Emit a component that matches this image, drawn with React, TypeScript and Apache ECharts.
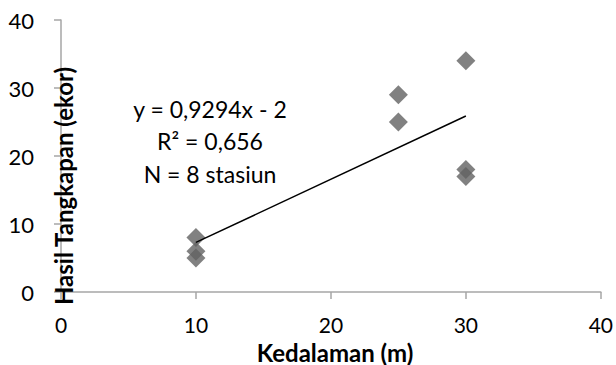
import React, { useEffect, useRef } from "react";
import * as echarts from "echarts";

const depthX = [10, 10, 10, 25, 25, 30, 30, 30];
const catchY = [8, 6, 5, 29, 25, 34, 18, 17];
const trendX = [10, 30];
const trendY = [7.29, 25.88];
const xTicks = [0, 10, 20, 30, 40];
const yTicks = [0, 10, 20, 30, 40];
const annotations = ["y = 0,9294x - 2", "R² = 0,656", "N = 8 stasiun"];
const xTitle = "Kedalaman (m)";
const yTitle = "Hasil Tangkapan (ekor)";

const FONT = "Lato, 'Open Sans', sans-serif";

export default function App() {
  const ref = useRef<HTMLDivElement>(null);
  useEffect(() => {
    if (!ref.current) return;
    const chart = echarts.init(ref.current, null, { renderer: "svg" });
    const axisCommon = {
      type: "value" as const,
      min: 0,
      max: 40,
      interval: 10,
      splitLine: { show: false },
      axisLine: { show: true, lineStyle: { color: "#a6a6a6", width: 1.5 } },
      axisTick: { show: true, inside: false, length: 7, lineStyle: { color: "#a6a6a6", width: 1.5 } },
    };
    chart.setOption({
      animation: false,
      backgroundColor: "#ffffff",
      grid: { left: 61, right: 14, top: 20, bottom: 73, containLabel: false },
      xAxis: {
        ...axisCommon,
        axisLabel: {
          margin: 22,
          fontSize: 21,
          fontFamily: FONT,
          color: "#000",
          formatter: (v: number) => (xTicks.includes(v) ? String(v) : ""),
        },
      },
      yAxis: {
        ...axisCommon,
        axisLabel: {
          margin: 27,
          fontSize: 22,
          fontFamily: FONT,
          color: "#000",
          formatter: (v: number) => (yTicks.includes(v) ? String(v) : ""),
        },
      },
      graphic: [
        {
          type: "text",
          x: 63,
          y: 186,
          rotation: Math.PI / 2,
          z: 10,
          style: {
            text: yTitle,
            fontSize: 24,
            fontWeight: "bold",
            fontFamily: FONT,
            fill: "#000",
            align: "center",
            verticalAlign: "middle",
          },
        },
        {
          type: "text",
          x: 335,
          y: 352,
          style: {
            text: xTitle,
            fontSize: 24,
            fontWeight: "bold",
            fontFamily: FONT,
            fill: "#000",
            align: "center",
            verticalAlign: "middle",
          },
        },
        ...annotations.map((t, i) => ({
          type: "text",
          x: 210,
          y: [109, 141, 174][i],
          style: {
            text: t,
            fontSize: 23,
            fontFamily: FONT,
            fill: "#000",
            align: "center",
            verticalAlign: "middle",
          },
        })),
      ],
      series: [
        {
          type: "line",
          data: trendX.map((x, i) => [x, trendY[i]]),
          symbol: "none",
          lineStyle: { color: "#000", width: 1.5 },
          z: 3,
        },
        {
          type: "scatter",
          data: depthX.map((x, i) => [x, catchY[i]]),
          symbol: "diamond",
          symbolSize: [19, 19],
          itemStyle: { color: "#626262" },
          z: 2,
        },
      ],
    });
    return () => chart.dispose();
  }, []);
  return <div ref={ref} style={{ width: 616, height: 365, position: "absolute", left: 0, top: 0 }} />;
}
